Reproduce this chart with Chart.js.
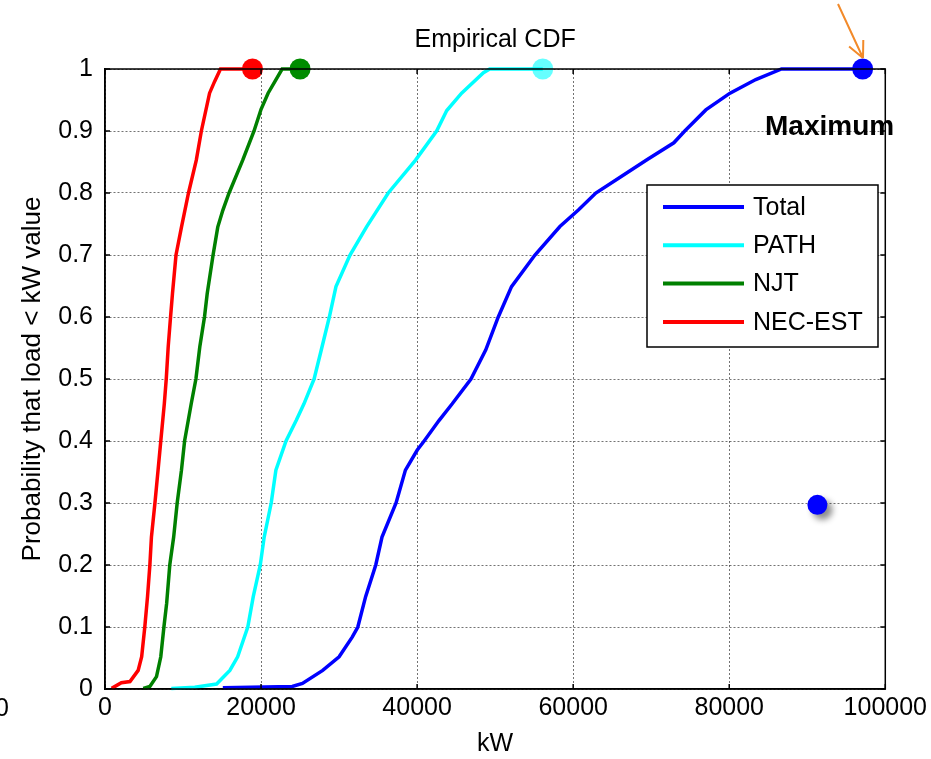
<!DOCTYPE html>
<html>
<head>
<meta charset="utf-8">
<script src="https://cdn.jsdelivr.net/npm/chart.js@4.4.1/dist/chart.umd.min.js"></script>
<style>
  html, body { margin: 0; padding: 0; background: #fff; }
  canvas { display: block; }
</style>
</head>
<body>
<canvas id="cdf" width="931" height="759"></canvas>
<script>
// series names and colours
const seriesNames = ['Total', 'PATH', 'NJT', 'NEC-EST'];
const seriesColors = ['#0000ff', '#00ffff', '#008000', '#ff0000'];
const markerColors = ['#0000ff', '#66ffff', '#008c00', '#ff0000'];

// empirical CDF points (kW, probability)
const totalKW = [15100, 24000, 25300, 27900, 30000, 31700, 32400, 33400, 34700, 35500, 37300, 38500, 40000, 40900, 42800, 44500, 46900, 48800, 50400, 52100, 55100, 58300, 60700, 62900, 66800, 69500, 72900, 74300, 77000, 80100, 83400, 86700, 97100];
const totalP = [0.002, 0.004, 0.009, 0.03, 0.052, 0.084, 0.1, 0.149, 0.2, 0.245, 0.3, 0.353, 0.385, 0.4, 0.433, 0.46, 0.5, 0.547, 0.6, 0.649, 0.7, 0.746, 0.773, 0.8, 0.832, 0.854, 0.881, 0.9, 0.934, 0.961, 0.983, 1, 1];

const pathKW = [8500, 11500, 14300, 16000, 17000, 18300, 19000, 19900, 20400, 21300, 21900, 23200, 24500, 25500, 26800, 27700, 28750, 29600, 31400, 33500, 36300, 39800, 42500, 43800, 45700, 48500, 49300, 56100];
const pathP = [0.001, 0.003, 0.008, 0.03, 0.052, 0.1, 0.149, 0.2, 0.245, 0.3, 0.353, 0.4, 0.433, 0.46, 0.5, 0.546, 0.6, 0.649, 0.7, 0.745, 0.8, 0.853, 0.9, 0.933, 0.961, 0.994, 1, 1];

const njtKW = [4900, 5750, 6600, 7150, 7550, 7900, 8300, 8800, 9250, 9800, 10200, 11050, 11650, 12150, 12750, 13100, 13850, 14450, 15100, 15900, 17650, 19100, 20000, 20900, 22700, 25000];
const njtP = [0.001, 0.004, 0.02, 0.052, 0.1, 0.138, 0.2, 0.245, 0.3, 0.353, 0.4, 0.46, 0.5, 0.552, 0.6, 0.638, 0.7, 0.745, 0.772, 0.8, 0.853, 0.9, 0.935, 0.961, 1, 1];

const necKW = [850, 2100, 3200, 4250, 4700, 5100, 5450, 5750, 5950, 6400, 6800, 7150, 7600, 7850, 8100, 8400, 8650, 9100, 9800, 10700, 11700, 12350, 13400, 14050, 14800, 18900];
const necP = [0.001, 0.01, 0.012, 0.03, 0.052, 0.1, 0.149, 0.2, 0.245, 0.3, 0.353, 0.4, 0.46, 0.5, 0.552, 0.6, 0.638, 0.7, 0.745, 0.8, 0.853, 0.9, 0.961, 0.98, 1, 1];

// maximum markers (at probability 1) and the stray point
const maxKW = [97100, 56100, 25000, 18900];
const maxP = [1, 1, 1, 1];
const strayKW = [91300];
const strayP = [0.297];

// axis ticks
const xTicks = [0, 20000, 40000, 60000, 80000, 100000];
const yTicks = [0, 0.1, 0.2, 0.3, 0.4, 0.5, 0.6, 0.7, 0.8, 0.9, 1];

const FONT = '"Liberation Sans", Arial, sans-serif';
Chart.defaults.font.family = FONT;
Chart.defaults.color = '#000';

const pts = (xs, ys) => xs.map((x, i) => ({ x: x, y: ys[i] }));
const curves = [pts(totalKW, totalP), pts(pathKW, pathP), pts(njtKW, njtP), pts(necKW, necP)];

const datasets = curves.map((d, i) => ({
  label: seriesNames[i],
  data: d,
  showLine: true,
  borderColor: seriesColors[i],
  backgroundColor: seriesColors[i],
  borderWidth: 3.5,
  pointRadius: 0,
  tension: 0,
  clip: false
}));
maxKW.forEach((x, i) => {
  datasets.push({
    label: seriesNames[i] + ' max',
    data: [{ x: x, y: maxP[i] }],
    pointRadius: 10.5,
    pointBackgroundColor: markerColors[i],
    pointBorderWidth: 0,
    clip: false
  });
});
const strayIndex = datasets.length;
datasets.push({
  label: 'stray',
  data: pts(strayKW, strayP),
  pointRadius: 10,
  pointBackgroundColor: '#0000ff',
  pointBorderWidth: 0,
  clip: false
});

// matlab style frame, inner ticks, title, legend and notes
const decor = {
  id: 'decor',
  beforeDatasetDraw(chart, args) {
    if (args.index === strayIndex) {
      const ctx = chart.ctx;
      ctx.save();
      ctx.shadowColor = 'rgba(0,0,0,0.45)';
      ctx.shadowBlur = 6;
      ctx.shadowOffsetX = 5;
      ctx.shadowOffsetY = 5;
    }
  },
  afterDatasetDraw(chart, args) {
    if (args.index === strayIndex) chart.ctx.restore();
  },
  afterDraw(chart) {
    const ctx = chart.ctx;
    const a = chart.chartArea;
    const sx = chart.scales.x, sy = chart.scales.y;
    ctx.save();
    ctx.strokeStyle = '#000';
    ctx.lineWidth = 1.5;
    ctx.strokeRect(a.left, a.top, a.right - a.left, a.bottom - a.top);
    ctx.beginPath();
    xTicks.forEach(v => {
      const px = sx.getPixelForValue(v);
      ctx.moveTo(px, a.bottom); ctx.lineTo(px, a.bottom - 5);
      ctx.moveTo(px, a.top); ctx.lineTo(px, a.top + 5);
    });
    yTicks.forEach(v => {
      const py = sy.getPixelForValue(v);
      ctx.moveTo(a.left, py); ctx.lineTo(a.left + 5, py);
      ctx.moveTo(a.right, py); ctx.lineTo(a.right - 5, py);
    });
    ctx.stroke();

    // title
    ctx.fillStyle = '#000';
    ctx.font = '25px ' + FONT;
    ctx.textAlign = 'center';
    ctx.textBaseline = 'middle';
    ctx.fillText('Empirical CDF', (a.left + a.right) / 2, 40);

    // stray clipped label at far left
    ctx.textAlign = 'right';
    ctx.fillText('0', 9, 709);

    // legend
    const lx = 647, ly = 185, lw = 231, lh = 162;
    ctx.fillStyle = '#fff';
    ctx.fillRect(lx, ly, lw, lh);
    ctx.lineWidth = 1.5;
    ctx.strokeRect(lx, ly, lw, lh);
    ctx.textAlign = 'left';
    ctx.font = '25px ' + FONT;
    seriesNames.forEach((name, i) => {
      const y = 207 + i * 38.3;
      ctx.strokeStyle = seriesColors[i];
      ctx.lineWidth = 4;
      ctx.beginPath();
      ctx.moveTo(663, y); ctx.lineTo(744, y);
      ctx.stroke();
      ctx.fillStyle = '#000';
      ctx.fillText(name, 753, y + 1);
    });

    // annotation
    ctx.font = 'bold 28px ' + FONT;
    ctx.fillStyle = '#000';
    ctx.fillText('Maximum', 765, 127);

    ctx.strokeStyle = '#f28a2a';
    ctx.lineWidth = 2;
    const x0 = 838, y0 = 4, x1 = 863, y1 = 58;
    const ang = Math.atan2(y1 - y0, x1 - x0);
    ctx.beginPath();
    ctx.moveTo(x0, y0); ctx.lineTo(x1, y1);
    ctx.moveTo(x1, y1); ctx.lineTo(x1 - 18 * Math.cos(ang - 0.45), y1 - 18 * Math.sin(ang - 0.45));
    ctx.moveTo(x1, y1); ctx.lineTo(x1 - 18 * Math.cos(ang + 0.45), y1 - 18 * Math.sin(ang + 0.45));
    ctx.stroke();
    ctx.restore();
  }
};

new Chart(document.getElementById('cdf'), {
  type: 'scatter',
  data: { datasets },
  options: {
    responsive: false,
    animation: false,
    events: [],
    layout: { padding: { top: 69, right: 43, left: 0, bottom: 0 } },
    plugins: {
      legend: { display: false },
      title: { display: false },
      tooltip: { enabled: false }
    },
    scales: {
      x: {
        type: 'linear',
        min: 0,
        max: 100000,
        afterBuildTicks: s => { s.ticks = xTicks.map(v => ({ value: v })); },
        afterFit: s => { s.height = 70; },
        ticks: {
          font: { size: 25 },
          color: '#000',
          padding: 4,
          maxRotation: 0,
          callback: v => String(v)
        },
        grid: { color: 'rgba(0,0,0,0.55)', lineWidth: 1, drawTicks: false },
        border: { display: true, color: '#000', width: 1.5, dash: [2, 2] },
        title: { display: true, text: 'kW', font: { size: 25 }, color: '#000', padding: { top: 0, bottom: 0 } }
      },
      y: {
        min: 0,
        max: 1,
        afterBuildTicks: s => { s.ticks = yTicks.map(v => ({ value: v })); },
        afterFit: s => { s.width = 105; },
        ticks: {
          font: { size: 25 },
          color: '#000',
          padding: 12,
          callback: v => String(Number(v.toFixed(1)))
        },
        grid: { color: 'rgba(0,0,0,0.55)', lineWidth: 1, drawTicks: false },
        border: { display: true, color: '#000', width: 1.5, dash: [2, 2] },
        title: { display: true, text: 'Probability that load < kW value', font: { size: 26 }, color: '#000', padding: { top: 17, bottom: 0 } }
      }
    }
  },
  plugins: [decor]
});
</script>
</body>
</html>
